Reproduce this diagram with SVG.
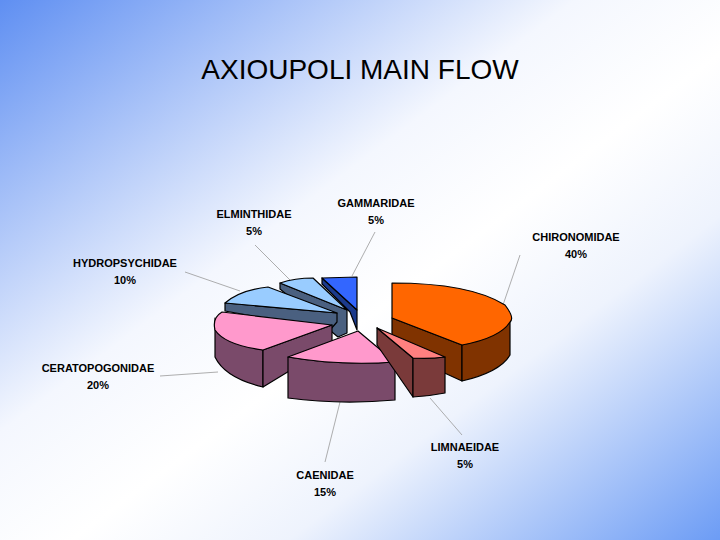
<svg xmlns="http://www.w3.org/2000/svg" width="720" height="540" viewBox="0 0 720 540">
<defs>
<linearGradient id="bg" x1="0" y1="0" x2="1" y2="1">
<stop offset="0" stop-color="#5f8ff2"/><stop offset="0.4" stop-color="#f4f7fe"/><stop offset="0.55" stop-color="#ffffff"/><stop offset="0.7" stop-color="#eef3fd"/><stop offset="1" stop-color="#6c9cf5"/>
</linearGradient>
<style>
.s{stroke:#000;stroke-width:1.2;stroke-linejoin:round}
.t{font-family:"Liberation Sans",Arial,sans-serif;font-size:11px;font-weight:bold;fill:#000;text-anchor:middle}
.l{stroke:#999;stroke-width:0.8;fill:none}
</style>
</defs>
<rect width="720" height="540" fill="url(#bg)"/>
<text x="360" y="79" font-family="Liberation Sans,Arial,sans-serif" font-size="28" text-anchor="middle">AXIOUPOLI MAIN FLOW</text>
<g id="connectors">
<path class="l" d="M520 255 L503 305"/>
<path class="l" d="M462 435 L430 398"/>
<path class="l" d="M325 462 L340 402"/>
<path class="l" d="M160 376 L218 372"/>
<path class="l" d="M185 272 L240 291"/>
<path class="l" d="M255 245 L290 280"/>
<path class="l" d="M375 232 L352 276"/>
</g>
<g id="gammaridae">
<path class="s" fill="#1b3a8c" d="M322 278 L322 284 L350 312 L357 330 L357 310 Z"/>
<path class="s" fill="#3366ff" d="M322 278 L357 277 L357 310 Z"/>
</g>
<g id="elminthidae">
<path class="s" fill="#4a6080" d="M280 283 L280 289 L338 337 L347 333 L347 310 Z"/>
<path class="s" fill="#99ccff" d="M280 283 Q295 278 313 278 L347 310 Z"/>
</g>
<g id="hydropsychidae">
<path class="s" fill="#4a6080" d="M225 303 L225 311 L330 330 L337 322 L337 313 Z"/>
<path class="s" fill="#99ccff" d="M225 303 Q240 290 268 287 L337 313 Z"/>
</g>
<g id="ceratopogonidae">
<path class="s" fill="#7a4a6a" d="M215 318 L215 357 Q225 378 263 387 L263 350 Q220 340 215 318 Z"/>
<path class="s" fill="#7a4a6a" d="M263 350 L332 325 L332 345 L263 387 Z"/>
<path class="s" fill="#ff99cc" d="M222 312 Q212 318 215 330 Q225 345 263 350 L332 325 Z"/>
</g>
<g id="chironomidae">
<path class="s" fill="#803300" d="M392 318 L392 349 L462 381 L462 345 Z"/>
<path class="s" fill="#803300" d="M462 345 Q500 335 510 318 L510 355 Q500 372 462 381 Z"/>
<path class="s" fill="#ff6600" d="M392 283 Q470 283 505 305 Q515 318 510 322 Q500 338 462 345 L392 318 Z"/>
</g>
<g id="caenidae">
<path class="s" fill="#7a4a6a" d="M288 357 L288 398 Q340 405 395 400 L395 362 Q340 366 288 357 Z"/>
<path class="s" fill="#ff99cc" d="M358 331 L288 357 Q340 366 395 362 Z"/>
</g>
<g id="limnaeidae">
<path class="s" fill="#7a3a3a" d="M377 328 L377 345 L413 397 L413 358 Z"/>
<path class="s" fill="#7a3a3a" d="M413 358 L413 397 Q430 396 445 393 L445 357 Q430 359 413 358 Z"/>
<path class="s" fill="#ff8080" d="M377 328 L445 357 Q430 359 413 358 Z"/>
</g>
<g id="labels">
<text class="t" x="576" y="241">CHIRONOMIDAE</text><text class="t" x="576" y="258">40%</text>
<text class="t" x="465" y="451">LIMNAEIDAE</text><text class="t" x="465" y="468">5%</text>
<text class="t" x="325" y="479">CAENIDAE</text><text class="t" x="325" y="496">15%</text>
<text class="t" x="98" y="372">CERATOPOGONIDAE</text><text class="t" x="98" y="389">20%</text>
<text class="t" x="125" y="267">HYDROPSYCHIDAE</text><text class="t" x="125" y="284">10%</text>
<text class="t" x="254" y="218">ELMINTHIDAE</text><text class="t" x="254" y="235">5%</text>
<text class="t" x="376" y="207">GAMMARIDAE</text><text class="t" x="376" y="224">5%</text>
</g>
</svg>
